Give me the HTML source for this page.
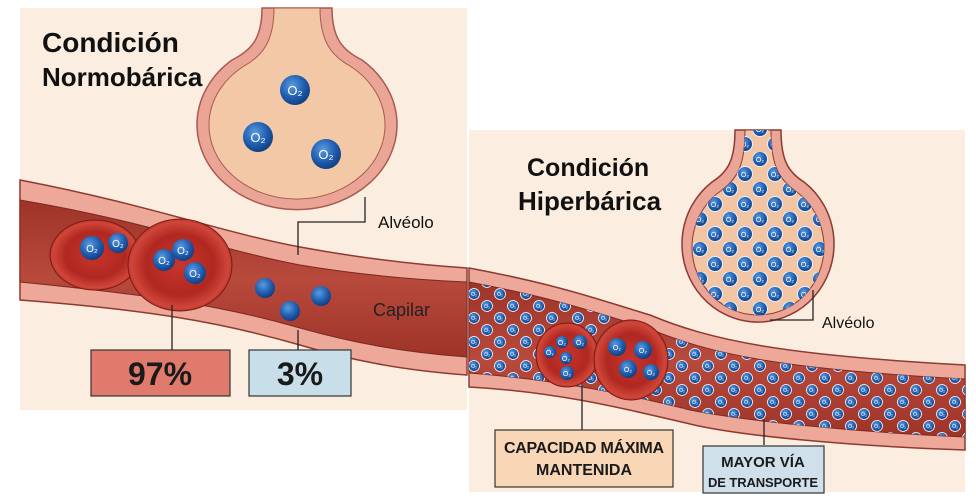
<!DOCTYPE html>
<html><head><meta charset="utf-8"><style>
html,body{margin:0;padding:0;background:#fff;}
svg{display:block;}
text{font-family:"Liberation Sans",sans-serif;}
</style></head><body>
<svg width="976" height="503" viewBox="0 0 976 503" xmlns="http://www.w3.org/2000/svg">
<defs>
<radialGradient id="o2" cx="0.4" cy="0.35" r="0.7"><stop offset="0" stop-color="#5b9be0"/><stop offset="0.6" stop-color="#1e5cae"/><stop offset="1" stop-color="#0f3a7a"/></radialGradient>
<radialGradient id="rbc" cx="0.5" cy="0.5" r="0.55"><stop offset="0" stop-color="#c8352c"/><stop offset="0.6" stop-color="#b02820"/><stop offset="0.85" stop-color="#d0463a"/><stop offset="1" stop-color="#9e221c"/></radialGradient>
<linearGradient id="lum" x1="0" y1="0" x2="0" y2="1"><stop offset="0" stop-color="#9e3328"/><stop offset="0.5" stop-color="#b84a3c"/><stop offset="1" stop-color="#9e3328"/></linearGradient>
<pattern id="dots" width="26" height="24" patternUnits="userSpaceOnUse">
<circle cx="6" cy="6" r="5.5" fill="url(#o2)" stroke="#fff" stroke-width="0.8"/>
<text x="6" y="8" font-size="5" fill="#fff" text-anchor="middle">O₂</text>
<circle cx="19" cy="18" r="5.5" fill="url(#o2)" stroke="#fff" stroke-width="0.8"/>
<text x="19" y="20" font-size="5" fill="#fff" text-anchor="middle">O₂</text>
</pattern>
<pattern id="dots2" width="30" height="30" patternUnits="userSpaceOnUse" x="3" y="2">
<circle cx="7" cy="7" r="7.5" fill="url(#o2)" stroke="#e8f0ff" stroke-width="1"/>
<text x="7" y="10" font-size="7" fill="#fff" text-anchor="middle">O₂</text>
<circle cx="22" cy="22" r="7.5" fill="url(#o2)" stroke="#e8f0ff" stroke-width="1"/>
<text x="22" y="25" font-size="7" fill="#fff" text-anchor="middle">O₂</text>
</pattern>
<clipPath id="rl"><path d="M469,282 C560,299 600,314 650,329 C710,354 780,369 965,379 L965,437 C850,432 740,420 690,410 C630,395 560,380 469,373 Z"/></clipPath>
<clipPath id="ra"><path d="M745,130 C745,164 738,178 722,190 A66,68 0 1 0 794,190 C778,178 771,164 771,130 Z"/></clipPath>
</defs>

<!-- LEFT PANEL -->
<rect x="20" y="8" width="447" height="402" fill="#fbeee0"/>
<path d="M262,8 C262,38 252,50 232,60 A100,85 0 1 0 362,60 C342,50 332,38 332,8 Z" fill="#eba597" stroke="#a85a4f" stroke-width="1.5"/>
<path d="M274,8 C274,42 262,56 244,66 A88,74 0 1 0 350,66 C332,56 320,42 320,8 Z" fill="#f2c8a6" stroke="#a85a4f" stroke-width="1"/>
<path d="M20,180 C150,205 220,232 300,247 C360,258 420,265 467,268 L467,375 C400,370 350,360 300,345 C220,322 150,310 20,300 Z" fill="#eda89a" stroke="#8e3a30" stroke-width="1.5"/>
<path d="M20,200 C150,222 220,250 300,265 C360,275 420,280 467,282 L467,357 C400,352 350,342 300,328 C220,305 150,295 20,282 Z" fill="url(#lum)" stroke="#7a2a22" stroke-width="1"/>
<ellipse cx="95" cy="255" rx="45" ry="35" fill="url(#rbc)" stroke="#7a1c16"/>
<ellipse cx="180" cy="265" rx="52" ry="46" fill="url(#rbc)" stroke="#7a1c16"/>
<g font-size="10" fill="#fff" text-anchor="middle">
<circle cx="92" cy="248" r="12" fill="url(#o2)"/><text x="92" y="252">O₂</text>
<circle cx="118" cy="243" r="10" fill="url(#o2)"/><text x="118" y="247">O₂</text>
<circle cx="164" cy="260" r="11" fill="url(#o2)"/><text x="164" y="264">O₂</text>
<circle cx="183" cy="250" r="11" fill="url(#o2)"/><text x="183" y="254">O₂</text>
<circle cx="195" cy="273" r="11" fill="url(#o2)"/><text x="195" y="277">O₂</text>
<circle cx="295" cy="90" r="15" fill="url(#o2)"/><text x="295" y="95" font-size="13">O₂</text>
<circle cx="258" cy="137" r="15" fill="url(#o2)"/><text x="258" y="142" font-size="13">O₂</text>
<circle cx="326" cy="154" r="15" fill="url(#o2)"/><text x="326" y="159" font-size="13">O₂</text>
</g>
<circle cx="265" cy="288" r="10" fill="url(#o2)"/>
<circle cx="321" cy="296" r="10" fill="url(#o2)"/>
<circle cx="290" cy="311" r="10" fill="url(#o2)"/>
<path d="M365,197 V222 H298 V255" fill="none" stroke="#222" stroke-width="1.3"/>
<text x="378" y="228" font-size="17" fill="#111">Alvéolo</text>
<text x="373" y="316" font-size="18" fill="#222">Capilar</text>
<path d="M172,305 V350 M298,330 V350" stroke="#222" stroke-width="1.3"/>
<rect x="91" y="350" width="139" height="46" fill="#e07a6c" stroke="#333" stroke-width="1.2"/>
<text x="160" y="385" font-size="32" font-weight="bold" fill="#1a1a1a" text-anchor="middle">97%</text>
<rect x="249" y="350" width="102" height="46" fill="#c8dfe9" stroke="#333" stroke-width="1.2"/>
<text x="300" y="385" font-size="32" font-weight="bold" fill="#1a1a1a" text-anchor="middle">3%</text>
<text x="42" y="52" font-size="28" font-weight="bold" fill="#111">Condición</text>
<text x="42" y="86" font-size="26" font-weight="bold" fill="#111">Normobárica</text>

<!-- RIGHT PANEL -->
<rect x="469" y="130" width="496" height="362" fill="#fbeee0"/>
<path d="M735,130 C735,160 728,172 712,182 A76,78 0 1 0 804,182 C788,172 781,160 781,130 Z" fill="#eba597" stroke="#8e3a30" stroke-width="1.5"/>
<path d="M745,130 C745,164 738,178 722,190 A66,68 0 1 0 794,190 C778,178 771,164 771,130 Z" fill="#f2c5a5" stroke="#8e3a30" stroke-width="1"/>
<rect x="680" y="130" width="160" height="200" fill="url(#dots2)" clip-path="url(#ra)"/>
<path d="M469,268 C560,285 600,300 650,315 C710,340 780,355 965,365 L965,450 C850,446 740,436 690,424 C630,410 560,392 469,387 Z" fill="#eda89a" stroke="#8e3a30" stroke-width="1.5"/>
<path d="M469,282 C560,299 600,314 650,329 C710,354 780,369 965,379 L965,437 C850,432 740,420 690,410 C630,395 560,380 469,373 Z" fill="url(#lum)" stroke="#7a2a22"/>
<rect x="469" y="280" width="496" height="160" fill="url(#dots)" clip-path="url(#rl)"/>
<ellipse cx="567" cy="355" rx="31" ry="32" fill="url(#rbc)" stroke="#7a1c16"/>
<ellipse cx="631" cy="360" rx="37" ry="40" fill="url(#rbc)" stroke="#7a1c16"/>
<g font-size="7" fill="#fff" text-anchor="middle">
<circle cx="562" cy="342" r="6" fill="url(#o2)"/><text x="562" y="345">O₂</text>
<circle cx="580" cy="342" r="7" fill="url(#o2)"/><text x="580" y="345">O₂</text>
<circle cx="550" cy="352" r="6" fill="url(#o2)"/><text x="550" y="355">O₂</text>
<circle cx="566" cy="358" r="6" fill="url(#o2)"/><text x="566" y="361">O₂</text>
<circle cx="567" cy="373" r="7" fill="url(#o2)"/><text x="567" y="376">O₂</text>
<circle cx="617" cy="347" r="9" fill="url(#o2)"/><text x="617" y="350">O₂</text>
<circle cx="643" cy="350" r="9" fill="url(#o2)"/><text x="643" y="353">O₂</text>
<circle cx="628" cy="369" r="9" fill="url(#o2)"/><text x="628" y="372">O₂</text>
<circle cx="651" cy="372" r="8" fill="url(#o2)"/><text x="651" y="375">O₂</text>
</g>
<path d="M813,290 V320 H770" fill="none" stroke="#222" stroke-width="1.3"/>
<text x="822" y="328" font-size="16" fill="#111">Alvéolo</text>
<path d="M582,385 V430 M764,420 V445" stroke="#222" stroke-width="1.3"/>
<rect x="495" y="430" width="178" height="57" fill="#f8d6b6" stroke="#333" stroke-width="1.2"/>
<text x="584" y="453" font-size="16" font-weight="bold" fill="#1a1a1a" text-anchor="middle" textLength="160">CAPACIDAD MÁXIMA</text>
<text x="584" y="475" font-size="16" font-weight="bold" fill="#1a1a1a" text-anchor="middle">MANTENIDA</text>
<rect x="703" y="446" width="121" height="47" fill="#cfe0ea" stroke="#333" stroke-width="1.2"/>
<text x="763" y="467" font-size="15" font-weight="bold" fill="#1a1a1a" text-anchor="middle">MAYOR VÍA</text>
<text x="763" y="487" font-size="13" font-weight="bold" fill="#1a1a1a" text-anchor="middle" textLength="110">DE TRANSPORTE</text>
<text x="527" y="176" font-size="25" font-weight="bold" fill="#111">Condición</text>
<text x="518" y="210" font-size="26" font-weight="bold" fill="#111">Hiperbárica</text>
</svg>
</body></html>
